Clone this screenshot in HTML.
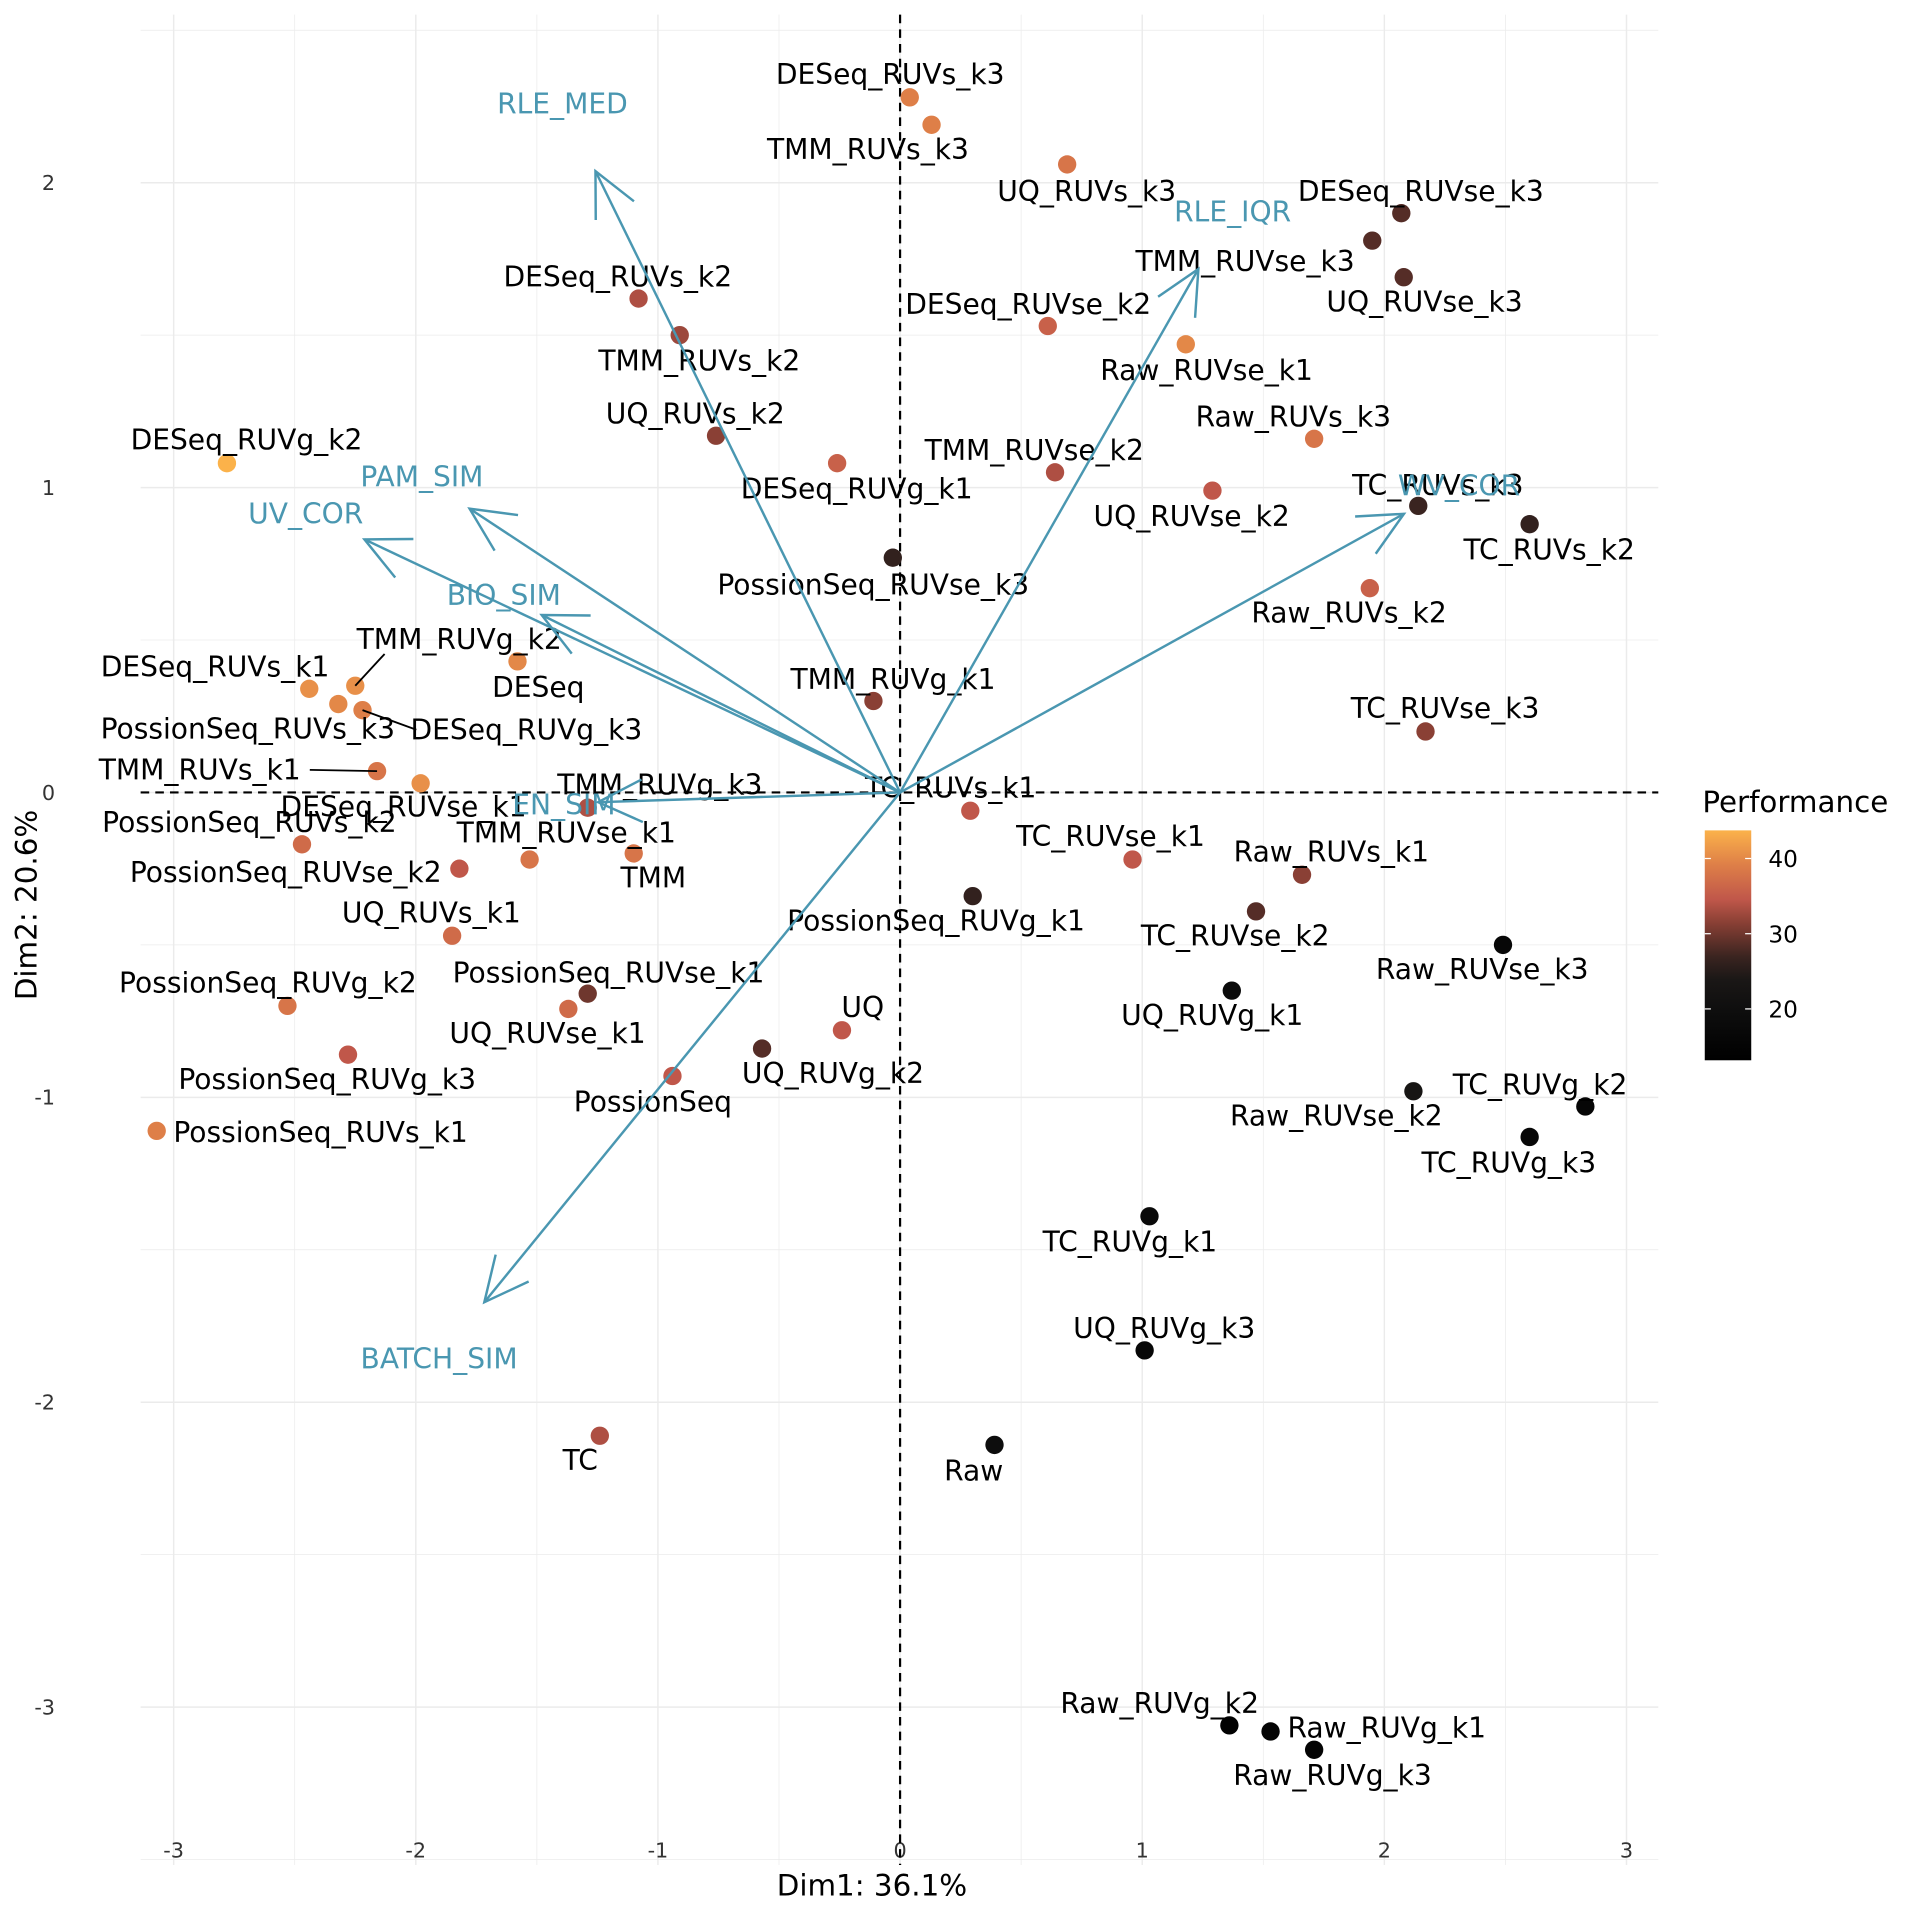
<!DOCTYPE html>
<html><head><meta charset="utf-8"><style>
html,body{margin:0;padding:0;background:#fff;}
svg{display:block;font-family:"DejaVu Sans","Liberation Sans",sans-serif;}
</style></head><body>
<svg id="chart" width="1920" height="1920" viewBox="0 0 1570 1570" xmlns="http://www.w3.org/2000/svg">
<defs>
<linearGradient id="pg" x1="0" y1="1" x2="0" y2="0">
<stop offset="0" stop-color="#000000"/>
<stop offset="0.2" stop-color="#0d0d0d"/>
<stop offset="0.35" stop-color="#1a1716"/>
<stop offset="0.45" stop-color="#3a2420"/>
<stop offset="0.6" stop-color="#8a4035"/>
<stop offset="0.7" stop-color="#c0574a"/>
<stop offset="0.85" stop-color="#de7f48"/>
<stop offset="1" stop-color="#fbb24a"/>
</linearGradient>
</defs>
<g id="grid"></g>
<g id="axes"></g>
<g id="pts"></g>
<g id="lbls"></g>
<g id="arrows"></g>
<text x="713" y="1550" font-size="24" text-anchor="middle">Dim1: 36.1%</text>
<text transform="translate(30,740) rotate(-90)" font-size="24" text-anchor="middle">Dim2: 20.6%</text>
<g>
<text x="1392" y="664" font-size="24">Performance</text>
<rect x="1394" y="679" width="38" height="188" fill="url(#pg)"/>
<g id="legticks"></g>
</g>
</svg>
<script>
const names=["DESeq_RUVs_k3","TMM_RUVs_k3","UQ_RUVs_k3","DESeq_RUVse_k3","TMM_RUVse_k3","UQ_RUVse_k3","DESeq_RUVs_k2","TMM_RUVs_k2","DESeq_RUVse_k2","Raw_RUVse_k1","UQ_RUVs_k2","DESeq_RUVg_k2","DESeq_RUVg_k1","TMM_RUVse_k2","Raw_RUVs_k3","UQ_RUVse_k2","TC_RUVs_k3","TC_RUVs_k2","PossionSeq_RUVse_k3","Raw_RUVs_k2","DESeq","DESeq_RUVs_k1","TMM_RUVg_k2","PossionSeq_RUVs_k3","DESeq_RUVg_k3","TMM_RUVg_k1","TC_RUVse_k3","TMM_RUVs_k1","DESeq_RUVse_k1","TMM_RUVg_k3","TC_RUVs_k1","PossionSeq_RUVs_k2","TMM","TMM_RUVse_k1","PossionSeq_RUVse_k2","TC_RUVse_k1","Raw_RUVs_k1","TC_RUVse_k2","PossionSeq_RUVg_k1","UQ_RUVs_k1","Raw_RUVse_k3","UQ_RUVg_k1","PossionSeq_RUVg_k2","PossionSeq_RUVse_k1","UQ_RUVse_k1","UQ","UQ_RUVg_k2","PossionSeq_RUVg_k3","PossionSeq","PossionSeq_RUVs_k1","Raw_RUVse_k2","TC_RUVg_k2","TC_RUVg_k3","TC_RUVg_k1","UQ_RUVg_k3","Raw","TC","Raw_RUVg_k2","Raw_RUVg_k1","Raw_RUVg_k3"];
const dim1=[0.04,0.13,0.69,2.07,1.95,2.08,-1.08,-0.91,0.61,1.18,-0.76,-2.78,-0.26,0.64,1.71,1.29,2.14,2.60,-0.03,1.94,-1.58,-2.44,-2.25,-2.32,-2.22,-0.11,2.17,-2.16,-1.98,-1.29,0.29,-2.47,-1.10,-1.53,-1.82,0.96,1.66,1.47,0.30,-1.85,2.49,1.37,-2.53,-1.29,-1.37,-0.24,-0.57,-2.28,-0.94,-3.07,2.12,2.83,2.60,1.03,1.01,0.39,-1.24,1.36,1.53,1.71];
const dim2=[2.28,2.19,2.06,1.90,1.81,1.69,1.62,1.50,1.53,1.47,1.17,1.08,1.08,1.05,1.16,0.99,0.94,0.88,0.77,0.67,0.43,0.34,0.35,0.29,0.27,0.30,0.20,0.07,0.03,-0.05,-0.06,-0.17,-0.20,-0.22,-0.25,-0.22,-0.27,-0.39,-0.34,-0.47,-0.50,-0.65,-0.70,-0.66,-0.71,-0.78,-0.84,-0.86,-0.93,-1.11,-0.98,-1.03,-1.13,-1.39,-1.83,-2.14,-2.11,-3.06,-3.08,-3.14];
const perf=[38,38,37,29,29,29,33,32,35,39,31,44,35,33,37,34,28,27,27,35,39,40,40,39,38,31,31,37,40,33,34,36,37,37,34,34,31,29,27,36,17,19,37,30,36,34,29,34,34,38,23,16,17,18,17,20,33,14,15,15];
const varNames=["RLE_MED","RLE_IQR","WV_COR","PAM_SIM","UV_COR","BIO_SIM","EN_SIM","BATCH_SIM"];
const varX=[-1.258,1.232,2.081,-1.778,-2.212,-1.480,-1.247,-1.717];
const varY=[2.038,1.717,0.914,0.931,0.830,0.582,-0.032,-1.672];
const xTicks=[-3,-2,-1,0,1,2,3];
const yTicks=[-3,-2,-1,0,1,2];
const legTicks=[20,30,40];
// label offsets (style only, view px)
const off={"DESeq_RUVs_k3":[-16,-19],"TMM_RUVs_k3":[-52,20],"UQ_RUVs_k3":[16,22],"DESeq_RUVse_k3":[16,-18],"TMM_RUVse_k3":[-104,17],"UQ_RUVse_k3":[17,20],"DESeq_RUVs_k2":[-17,-18],"TMM_RUVs_k2":[16,21],"DESeq_RUVse_k2":[-16,-18],"Raw_RUVse_k1":[17,21],"UQ_RUVs_k2":[-17,-18],"DESeq_RUVg_k2":[16,-19],"DESeq_RUVg_k1":[16,21],"TMM_RUVse_k2":[-17,-18],"Raw_RUVs_k3":[-17,-18],"UQ_RUVse_k2":[-17,21],"TC_RUVs_k3":[16,-17],"TC_RUVs_k2":[16,21],"PossionSeq_RUVse_k3":[-16,22],"Raw_RUVs_k2":[-17,20],"DESeq":[17,21],"DESeq_RUVs_k1":[-77,-18],"TMM_RUVg_k2":[85,-38],"PossionSeq_RUVs_k3":[-74,20],"DESeq_RUVg_k3":[134,16],"TMM_RUVg_k1":[16,-18],"TC_RUVse_k3":[16,-19],"TMM_RUVs_k1":[-145,-1],"DESeq_RUVse_k1":[-14,19],"TMM_RUVg_k3":[59,-19],"TC_RUVs_k1":[-16,-19],"PossionSeq_RUVs_k2":[-43,-18],"TMM":[16,20],"TMM_RUVse_k1":[30,-22],"PossionSeq_RUVse_k2":[-142,3],"TC_RUVse_k1":[-18,-19],"Raw_RUVs_k1":[24,-19],"TC_RUVse_k2":[-17,20],"PossionSeq_RUVg_k1":[-30,20],"UQ_RUVs_k1":[-17,-19],"Raw_RUVse_k3":[-17,20],"UQ_RUVg_k1":[-16,20],"PossionSeq_RUVg_k2":[-16,-19],"PossionSeq_RUVse_k1":[17,-17],"UQ_RUVse_k1":[-17,20],"UQ":[17,-19],"UQ_RUVg_k2":[58,20],"PossionSeq_RUVg_k3":[-17,20],"PossionSeq":[-16,21],"PossionSeq_RUVs_k1":[134,1],"Raw_RUVse_k2":[-63,20],"TC_RUVg_k2":[-37,-18],"TC_RUVg_k3":[-17,21],"TC_RUVg_k1":[-16,21],"UQ_RUVg_k3":[16,-18],"Raw":[-17,21],"TC":[-16,20],"Raw_RUVg_k2":[-57,-18],"Raw_RUVg_k1":[95,-3],"Raw_RUVg_k3":[15,21]};
const leaders={"TMM_RUVg_k2":[24,-26],"DESeq_RUVg_k3":[44,16],"TMM_RUVs_k1":[-55,-1]};
const varOff={"RLE_MED":[-27,-55],"RLE_IQR":[28,-47],"WV_COR":[45,-23],"PAM_SIM":[-39,-26],"UV_COR":[-48,-21],"BIO_SIM":[-31,-16],"EN_SIM":[-28,2],"BATCH_SIM":[-37,46]};

const NS="http://www.w3.org/2000/svg";
const X0=736,XS=198,Y0=648,YS=249.3;
const sx=v=>X0+v*XS, sy=v=>Y0-v*YS;
function mk(t,a,p){const e=document.createElementNS(NS,t);for(const k in a)e.setAttribute(k,a[k]);p.appendChild(e);return e;}
const cstops=[[13,[0,0,0]],[20,[13,13,13]],[24,[26,23,22]],[28,[58,36,32]],[31,[138,64,53]],[34,[192,87,74]],[38,[222,127,72]],[44,[251,178,74]]];
function col(v){if(v<=cstops[0][0])return"rgb(0,0,0)";for(let i=1;i<cstops.length;i++){if(v<=cstops[i][0]){const a=cstops[i-1],b=cstops[i],t=(v-a[0])/(b[0]-a[0]);return"rgb("+a[1].map((c,j)=>Math.round(c+(b[1][j]-c)*t)).join(",")+")";}}return"rgb(251,178,74)";}

const grid=document.getElementById('grid');
const L=115,R=1356,T=12,B=1525;
for(let v=-3;v<=3;v+=0.5){const e=mk('line',{x1:sx(v),x2:sx(v),y1:T,y2:B,stroke:'#ebebeb','stroke-width':Number.isInteger(v)?1.2:0.6},grid);

}
for(let v=-3.5;v<=2.5;v+=0.5){const e=mk('line',{x1:L,x2:R,y1:sy(v),y2:sy(v),stroke:'#ebebeb','stroke-width':Number.isInteger(v)?1.2:0.6},grid);

}
const axes=document.getElementById('axes');
xTicks.forEach(v=>{const t=mk('text',{x:sx(v),y:1519,'font-size':17,'text-anchor':'middle',fill:'#333'},axes);t.textContent=v;

});
yTicks.forEach(v=>{const t=mk('text',{x:45,y:sy(v)+6,'font-size':17,'text-anchor':'end',fill:'#333'},axes);t.textContent=v;

});
let z=mk('line',{x1:L,x2:R,y1:sy(0),y2:sy(0),stroke:'#000','stroke-width':1.8,'stroke-dasharray':'7,5'},axes);


z=mk('line',{x1:sx(0),x2:sx(0),y1:T,y2:B,stroke:'#000','stroke-width':1.8,'stroke-dasharray':'7,5'},axes);



const pts=document.getElementById('pts'),lbls=document.getElementById('lbls');
names.forEach((n,i)=>{const cx=sx(dim1[i]),cy=sy(dim2[i]);
const c=mk('circle',{cx:cx,cy:cy,r:7.5,fill:col(perf[i])},pts);


const o=off[n]||[0,-18];
if(leaders[n]){const l=leaders[n];const ln=mk('line',{x1:cx,y1:cy,x2:cx+l[0],y2:cy+l[1],stroke:'#000','stroke-width':1.5},lbls);

}
const t=mk('text',{x:cx+o[0],y:cy+o[1]+8,'font-size':23,'text-anchor':'middle',fill:'#000'},lbls);t.textContent=n;

});

const ar=document.getElementById('arrows');const AC='#4a97b1';
varNames.forEach((n,i)=>{const x2=sx(varX[i]),y2=sy(varY[i]);
const g=mk('g',{},ar);


mk('line',{x1:X0,y1:Y0,x2:x2,y2:y2,stroke:AC,'stroke-width':2},g);
const ang=Math.atan2(y2-Y0,x2-X0),h=40,s=0.45;
const p1=[x2-h*Math.cos(ang-s),y2-h*Math.sin(ang-s)],p2=[x2-h*Math.cos(ang+s),y2-h*Math.sin(ang+s)];
mk('polyline',{points:p1.join(',')+' '+x2+','+y2+' '+p2.join(','),fill:'none',stroke:AC,'stroke-width':2},g);
const o=varOff[n];
const t=mk('text',{x:x2+o[0],y:y2+o[1]+8,'font-size':23,'text-anchor':'middle',fill:AC},g);t.textContent=n;

});

const lt=document.getElementById('legticks');
legTicks.forEach(v=>{const y=702+(40-v)*6.15;
mk('line',{x1:1394,x2:1399,y1:y,y2:y,stroke:'#fff','stroke-width':1},lt);
mk('line',{x1:1427,x2:1432,y1:y,y2:y,stroke:'#fff','stroke-width':1},lt);
const t=mk('text',{x:1446,y:y+7,'font-size':19,fill:'#000'},lt);t.textContent=v;

});
</script>
</body></html>
